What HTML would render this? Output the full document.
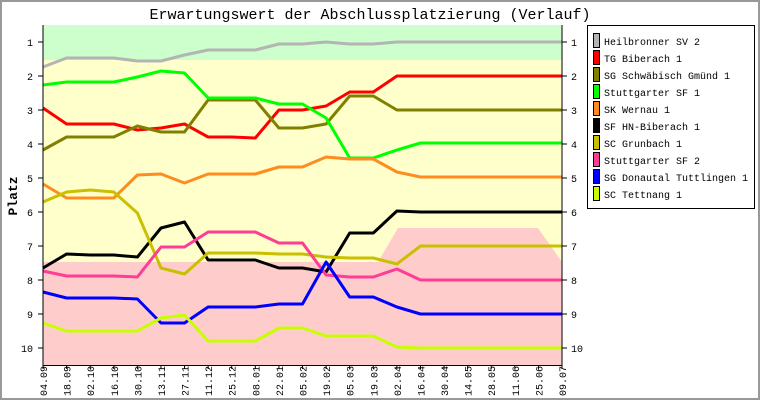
<!DOCTYPE html><html><head><meta charset="utf-8"><style>
html,body{margin:0;padding:0;background:#fff}
svg{display:block;font-family:"Liberation Mono",monospace}
</style></head><body>
<svg id="s" width="760" height="400" xmlns="http://www.w3.org/2000/svg">
<rect x="1" y="1" width="758" height="398" fill="#fff" stroke="#999" stroke-width="2"/>
<text x="370" y="19" font-size="15" text-anchor="middle">Erwartungswert der Abschlussplatzierung (Verlauf)</text>
<rect x="43" y="25" width="519" height="35" fill="#ccffcc"/>
<rect x="43" y="60" width="519" height="305" fill="#ffffcc"/>
<polygon points="43,262 378,262 398,228 538,228 562,262 562,365 43,365" fill="#ffcccc"/>
<g id="lines" fill="none" stroke-width="3" stroke-linejoin="round"></g>
<line x1="43" y1="25" x2="43" y2="366" stroke="#000"/>
<line x1="562" y1="25" x2="562" y2="366" stroke="#000"/>
<line x1="43" y1="365.5" x2="562" y2="365.5" stroke="#000"/>
<g id="ax" font-size="10"></g>
<text transform="translate(17,196) rotate(-90)" font-size="13" font-weight="bold" text-anchor="middle">Platz</text>
<rect x="587.5" y="25.5" width="167" height="183" fill="#fff" stroke="#000"/>
<g id="leg" font-size="10"></g>
</svg>
<script>
var ns="http://www.w3.org/2000/svg";
function el(p,t,a,txt){var e=document.createElementNS(ns,t);for(var k in a)e.setAttribute(k,a[k]);if(txt!=null)e.textContent=txt;document.getElementById(p).appendChild(e);return e;}
var X=function(i){return 43+i*519/22};
var xl=["04.09","18.09","02.10","16.10","30.10","13.11","27.11","11.12","25.12","08.01","22.01","05.02","19.02","05.03","19.03","02.04","16.04","30.04","14.05","28.05","11.06","25.06","09.07"];
for(var v=1;v<=10;v++){var y=42+(v-1)*34;
el("ax","line",{x1:38,y1:y,x2:43,y2:y,stroke:"#000"});
el("ax","line",{x1:562,y1:y,x2:567,y2:y,stroke:"#000"});
el("ax","text",{x:33,y:y+4,"text-anchor":"end"},v);
el("ax","text",{x:571,y:y+4},v);}
xl.forEach(function(t,i){var x=X(i);el("ax","line",{x1:x,y1:365,x2:x,y2:369,stroke:"#000"});
el("ax","text",{transform:"translate("+(x+4)+",396) rotate(-90)"},t);});
var S=[
["Heilbronner SV 2","#b4b4b4",[67,58,58,58,61,61,55,50,50,50,44,44,42,44,44,42,42]],
["TG Biberach 1","#ff0000",[108,124,124,124,130,128,124,137,137,138,110,110,106,92,92,76,76]],
["SG Schwäbisch Gmünd 1","#808000",[150,137,137,137,126,132,132,100,100,100,128,128,124,96,96,110,110]],
["Stuttgarter SF 1","#00ff00",[85,82,82,82,77,71,73,98,98,98,104,104,118,158,158,150,143]],
["SK Wernau 1","#ff8c1e",[184,198,198,198,175,174,183,174,174,174,167,167,157,159,159,172,177]],
["SF HN-Biberach 1","#000000",[268,254,255,255,257,228,222,260,260,260,268,268,272,233,233,211,212]],
["SC Grunbach 1","#c8c000",[202,192,190,192,213,268,274,253,253,253,254,254,257,258,258,264,246]],
["Stuttgarter SF 2","#ff3c96",[271,276,276,276,277,247,247,232,232,232,243,243,275,277,277,269,280]],
["SG Donautal Tuttlingen 1","#0000ff",[292,298,298,298,299,323,323,307,307,307,304,304,262,297,297,307,314]],
["SC Tettnang 1","#c8ff00",[323,331,331,331,331,318,315,341,341,341,328,328,336,336,336,347,348]]];
S.forEach(function(s,k){var d=s[2].slice();while(d.length<23)d.push(d[d.length-1]);
el("lines","polyline",{points:d.map(function(y,i){return X(i).toFixed(1)+","+y}).join(" "),stroke:s[1]});
var y=41+k*17;el("leg","rect",{x:593.5,y:y-7.5,width:6,height:14,fill:s[1],stroke:"#000"});
el("leg","text",{x:604,y:y+4},s[0]);});
</script>
</body></html>
